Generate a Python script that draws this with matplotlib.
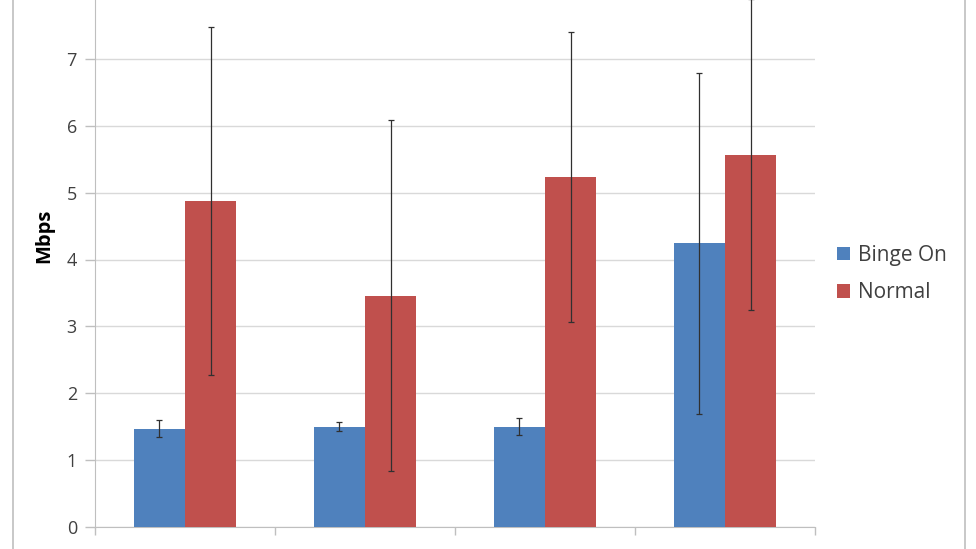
import matplotlib.pyplot as plt
import numpy as np
from matplotlib.patches import Rectangle

plt.rcParams['font.family'] = ['Open Sans', 'DejaVu Sans']

# values (Mbps)
groups = [0, 1, 2, 3]
binge_on = [1.47, 1.50, 1.50, 4.24]
binge_err = [0.13, 0.07, 0.13, 2.55]
normal = [4.88, 3.46, 5.23, 5.57]
normal_err = [2.60, 2.63, 2.17, 2.32]
yticks = [0, 1, 2, 3, 4, 5, 6, 7, 8]

blue = '#4F81BD'
red = '#C0504D'
grid_c = '#D9D9D9'
axis_c = '#BFBFBF'

fig = plt.figure(figsize=(9.76, 5.49), dpi=100)
ax = fig.add_axes([95 / 976, 22 / 549, 720 / 976, 535 / 549])

x = np.array(groups)
w = 1 / 3.5
err_kw = dict(ecolor='#303030', elinewidth=0.9, capsize=2.5, capthick=0.9)
ax.bar(x - w / 2, binge_on, w, color=blue, yerr=binge_err, error_kw=err_kw,
       label='Binge On', zorder=3)
ax.bar(x + w / 2, normal, w, color=red, yerr=normal_err, error_kw=err_kw,
       label='Normal', zorder=3)

ax.set_xlim(-0.5, 3.5)
ax.set_ylim(0, 8)
ax.set_yticks(yticks)
ax.set_xticks([-0.5, 0.5, 1.5, 2.5, 3.5])
ax.set_xticklabels([])
ax.tick_params(axis='x', direction='out', length=6, color=axis_c, width=1)
ax.tick_params(axis='y', direction='out', length=7, color=axis_c, width=1,
               labelsize=13, labelcolor='#404040', pad=6)
ax.grid(axis='y', color=grid_c, linewidth=1, zorder=0)
for s in ['top', 'right']:
    ax.spines[s].set_visible(False)
ax.spines['left'].set_color(axis_c)
ax.spines['bottom'].set_color(axis_c)
ax.set_ylabel('Mbps', fontsize=14.5, fontweight='bold')
ax.yaxis.set_label_coords(-0.057, 0.545)

fig.legend(loc='center left', bbox_to_anchor=(837 / 976, 1 - 274 / 549), frameon=False,
           fontsize=15, handlelength=0.6, handleheight=0.6, handletextpad=0.4,
           labelspacing=0.8, labelcolor='#404040', borderpad=0, borderaxespad=0)

# outer chart border
fig.patches.append(Rectangle((13 / 976, -0.1), 952 / 976, 1.2, transform=fig.transFigure,
                             fill=False, edgecolor='#BFBFBF', linewidth=1.2))

plt.savefig('out.png', dpi=100)
